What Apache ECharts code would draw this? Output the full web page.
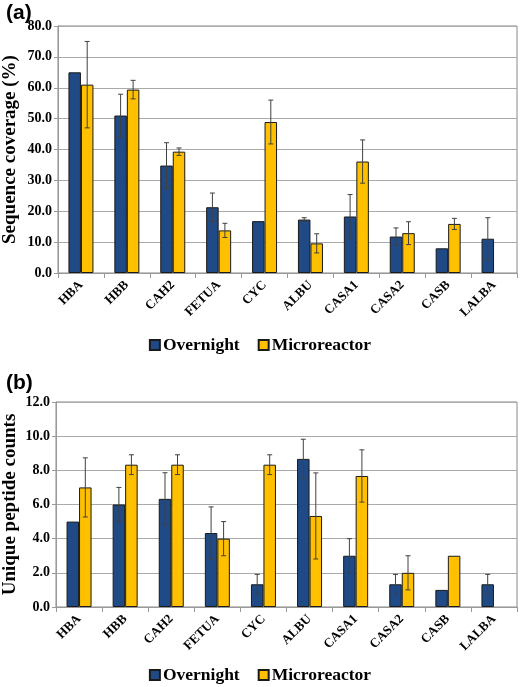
<!DOCTYPE html>
<html>
<head>
<meta charset="utf-8">
<script src="https://cdn.jsdelivr.net/npm/echarts@6/dist/echarts.min.js"></script>
<style>
html,body{margin:0;padding:0;background:#fff;}
#chart{width:520px;height:687px;}
</style>
</head>
<body>
<div id="chart"></div>
<script>
const categories = ['HBA','HBB','CAH2','FETUA','CYC','ALBU','CASA1','CASA2','CASB','LALBA'];
const seriesNames = ['Overnight','Microreactor'];
// (a) Sequence coverage (%)
const coverageOvernight    = [65.0, 51.0, 34.8, 21.3, 16.8, 17.3, 18.3, 11.8, 8.0, 11.1];
const coverageOvernightErr = [0, 6.9, 7.4, 4.6, 0, 0.6, 7.1, 2.8, 0, 6.8];
const coverageMicro        = [61.0, 59.4, 39.3, 13.8, 48.9, 9.6, 36.1, 12.9, 15.9, null];
const coverageMicroErr     = [14.0, 3.0, 1.2, 2.3, 7.1, 3.1, 7.0, 3.7, 1.8, 0];
const coverageTicks = [0, 10, 20, 30, 40, 50, 60, 70, 80];
// (b) Unique peptide counts
const peptidesOvernight    = [5.0, 6.0, 6.33, 4.33, 1.33, 8.67, 3.0, 1.33, 1.0, 1.33];
const peptidesOvernightErr = [0, 1.0, 1.53, 1.53, 0.58, 1.15, 1.0, 0.58, 0, 0.58];
const peptidesMicro        = [7.0, 8.33, 8.33, 4.0, 8.33, 5.33, 7.67, 2.0, 3.0, null];
const peptidesMicroErr     = [1.73, 0.58, 0.58, 1.0, 0.58, 2.52, 1.53, 1.0, 0, 0];
const peptideTicks = [0, 2, 4, 6, 8, 10, 12];

const BLUE = '#1F4A86', YELLOW = '#FFC000';
const SERIF = '"Liberation Serif","Times New Roman",serif';
const SANS = '"Liberation Sans",Arial,sans-serif';
const BAR_W = 12.5;

const chart = echarts.init(document.getElementById('chart'), null, {renderer:'canvas'});

function errSeries(name, gi, vals, errs, offset){
  return {
    type:'custom', name: name + ' err', xAxisIndex: gi, yAxisIndex: gi, z: 5,
    silent: true, legendHoverLink:false,
    encode:{x:0, y:1},
    data: categories.map((c,i)=>[i, vals[i] == null ? 0 : vals[i], errs[i]]),
    renderItem: function(params, api){
      const e = api.value(2);
      if(!e) return null;
      const i = api.value(0), v = api.value(1);
      const hi = api.coord([i, v + e]);
      const lo = api.coord([i, Math.max(0, v - e)]);
      const x = hi[0] + offset;
      const st = {stroke:'#404040', lineWidth:1};
      const cap = 2.5;
      return {type:'group', children:[
        {type:'line', shape:{x1:x, y1:hi[1], x2:x, y2:lo[1]}, style:st},
        {type:'line', shape:{x1:x-cap, y1:hi[1], x2:x+cap, y2:hi[1]}, style:st},
        {type:'line', shape:{x1:x-cap, y1:lo[1], x2:x+cap, y2:lo[1]}, style:st}
      ]};
    }
  };
}
function barSeries(name, gi, vals, color){
  return {
    type:'bar', name:name, xAxisIndex:gi, yAxisIndex:gi, data: vals,
    barWidth: BAR_W, barGap:'0%',
    itemStyle:{color:color, borderColor:'#1a1a1a', borderWidth:1},
    emphasis:{disabled:true}
  };
}
function xAxisCfg(gi){
  return {
    type:'category', gridIndex:gi, data:categories,
    axisLine:{lineStyle:{color:'#999', width:1}},
    axisTick:{show:true, length:5, lineStyle:{color:'#999'}},
    axisLabel:{rotate:45, color:'#000', fontFamily:SERIF, fontWeight:'bold', fontSize:13, margin:10, interval:0}
  };
}
function yAxisCfg(gi, ticks, name, gap){
  return {
    type:'value', gridIndex:gi, min:ticks[0], max:ticks[ticks.length-1],
    interval: ticks[1]-ticks[0],
    name:name, nameLocation:'middle', nameGap:gap, nameMoveOverlap:false,
    nameTextStyle:{color:'#000', fontFamily:SERIF, fontWeight:'bold', fontSize:19},
    axisLine:{show:true, lineStyle:{color:'#999'}},
    axisTick:{show:true, length:4, lineStyle:{color:'#999'}},
    splitLine:{lineStyle:{color:'#aaa', width:1}},
    axisLabel:{color:'#000', fontFamily:SERIF, fontWeight:'bold', fontSize:14, margin:6,
      formatter: v => v.toFixed(1)}
  };
}
function legendCfg(top){
  return {
    top: top, left: 'center', data: seriesNames, icon:'rect', itemWidth:10, itemHeight:10,
    itemGap: 18, selectedMode:false,
    textStyle:{color:'#000', fontFamily:SERIF, fontWeight:'bold', fontSize:17.5, padding:[0,0,0,-2]}
  };
}

chart.setOption({
  backgroundColor:'#fff',
  animation:false,
  title:[
    {text:'(a)', left:1, top:-2, textStyle:{fontFamily:SANS, fontWeight:'bold', fontSize:21, color:'#000'}},
    {text:'(b)', left:1, top:368, textStyle:{fontFamily:SANS, fontWeight:'bold', fontSize:21, color:'#000'}}
  ],
  legend:[legendCfg(331), legendCfg(661)],
  grid:[
    {left:58, top:26, width:459, height:247, show:true, borderColor:'#888', borderWidth:1, containLabel:false, outerBoundsMode:'none'},
    {left:56, top:402, width:461, height:205, show:true, borderColor:'#888', borderWidth:1, containLabel:false, outerBoundsMode:'none'}
  ],
  xAxis:[xAxisCfg(0), xAxisCfg(1)],
  yAxis:[yAxisCfg(0, coverageTicks, 'Sequence coverage (%)', 38), yAxisCfg(1, peptideTicks, 'Unique peptide counts', 36)],
  series:[
    barSeries('Overnight', 0, coverageOvernight, BLUE),
    barSeries('Microreactor', 0, coverageMicro, YELLOW),
    barSeries('Overnight', 1, peptidesOvernight, BLUE),
    barSeries('Microreactor', 1, peptidesMicro, YELLOW),
    errSeries('Overnight', 0, coverageOvernight, coverageOvernightErr, -BAR_W/2),
    errSeries('Microreactor', 0, coverageMicro, coverageMicroErr, BAR_W/2),
    errSeries('Overnight', 1, peptidesOvernight, peptidesOvernightErr, -BAR_W/2),
    errSeries('Microreactor', 1, peptidesMicro, peptidesMicroErr, BAR_W/2)
  ]
});
</script>
</body>
</html>
